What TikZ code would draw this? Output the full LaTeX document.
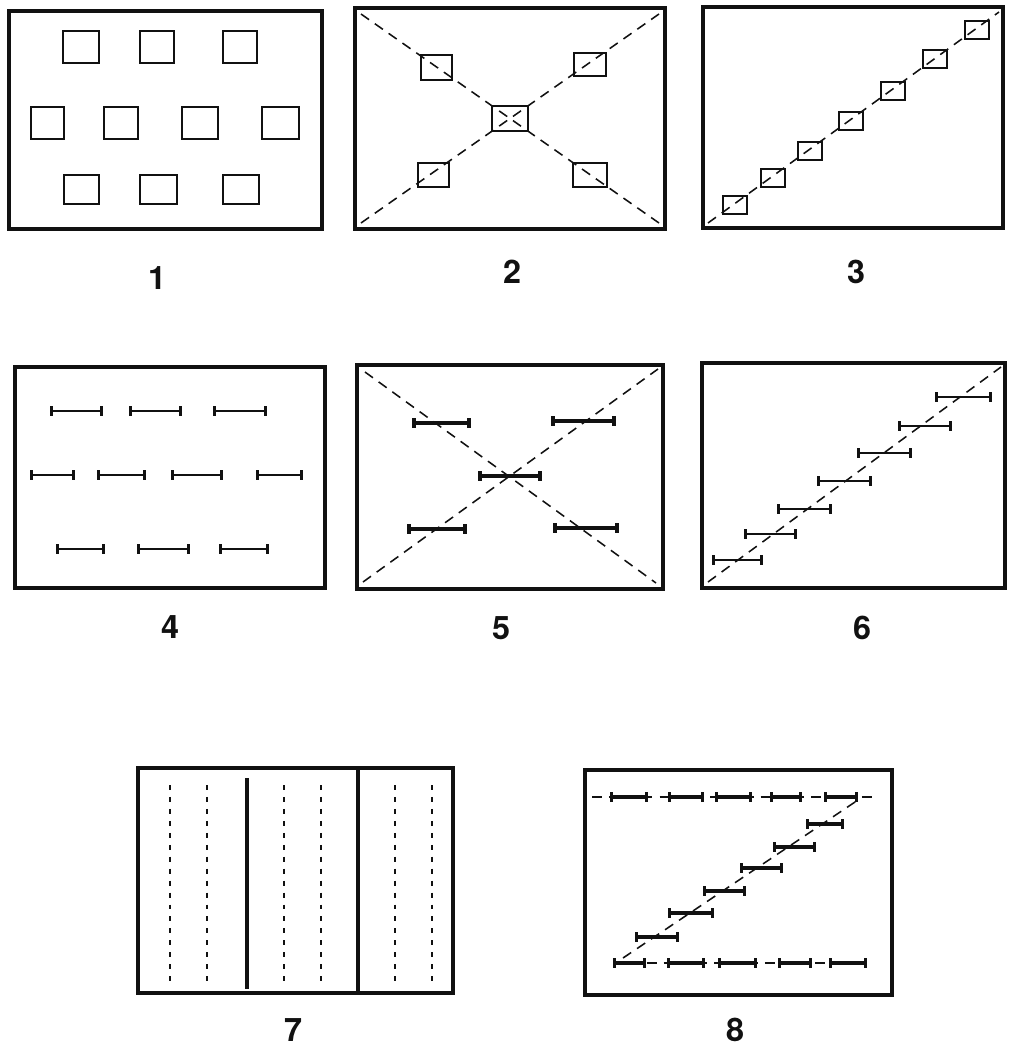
\documentclass[tikz,border=0pt]{standalone}
\usepackage{tikz}
\usepackage{xcolor}
\usepackage{fontspec}
\setmainfont{TeX Gyre Heros}
\usetikzlibrary{arrows.meta}
\definecolor{colorInk}{HTML}{111111}
\def\colorInk{colorInk}

\tikzset{
  cadre/.style={line width=3.4pt, \colorInk},
  pave/.style={line width=1.4pt, \colorInk},
  diagonale/.style={dash pattern=on 7pt off 5pt, line width=1.1pt, \colorInk},
  barre/.style={line width=1.8pt, \colorInk, {Bar[width=7pt]}-{Bar[width=7pt]}},
  grossebarre/.style={barre, line width=2.8pt},
  tirets/.style={dash pattern=on 3.5pt off 5pt, line width=1.4pt, \colorInk},
  numero/.style={font=\fontsize{23pt}{26pt}\selectfont\bfseries, \colorInk, inner sep=0pt}
}

\begin{document}
\begin{tikzpicture}[x=0.025cm, y=-0.025cm]

  \useasboundingbox (0,0) rectangle (1012,1048);

  % Panneau 1 : pavés en quinconce
  \draw[cadre] (9,11) rectangle (322,229);
  \foreach \a/\b in {63/99, 140/174, 223/257}
    \draw[pave] (\a,31) rectangle (\b,63);
  \foreach \a/\b in {31/64, 104/138, 182/218, 262/299}
    \draw[pave] (\a,107) rectangle (\b,139);
  \foreach \a/\b in {64/99, 140/177, 223/259}
    \draw[pave] (\a,175) rectangle (\b,204);
  \node[numero] (num1) at (157,278) {1};

  % Panneau 2 : diagonales croisées
  \draw[cadre] (355,8) rectangle (665,229);
  \draw[diagonale] (361,14) -- (659,223);
  \draw[diagonale] (361,223) -- (659,14);
  \draw[pave] (421,55) rectangle (452,80);
  \draw[pave] (574,53) rectangle (606,76);
  \draw[pave] (492,106) rectangle (528,131);
  \draw[pave] (418,163) rectangle (449,187);
  \draw[pave] (573,163) rectangle (607,187);
  \node[numero] (num2) at (512,272) {2};

  % Panneau 3 : une seule diagonale
  \draw[cadre] (703,7) rectangle (1003,228);
  \draw[diagonale] (708,223) -- (999,12);
  \foreach \x/\y in {735/205, 773/178, 810/151, 851/121, 893/91, 935/59, 977/30}
    \draw[pave] (\x-12,\y-9) rectangle (\x+12,\y+9);
  \node[numero] (num3) at (856,272) {3};

  % Panneau 4 : barres en quinconce
  \draw[cadre] (15,367) rectangle (325,588);
  \foreach \a/\b in {50/103, 129/182, 213/267}
    \draw[barre] (\a,411) -- (\b,411);
  \foreach \a/\b in {30/75, 97/146, 171/223, 256/303}
    \draw[barre] (\a,475) -- (\b,475);
  \foreach \a/\b in {56/105, 137/190, 219/269}
    \draw[barre] (\a,549) -- (\b,549);
  \node[numero] (num4) at (170,627) {4};

  % Panneau 5
  \draw[cadre] (357,365) rectangle (663,589);
  \draw[diagonale] (365,372) -- (656,583);
  \draw[diagonale] (363,582) -- (658,369);
  \draw[grossebarre] (412,423) -- (471,423);
  \draw[grossebarre] (551,421) -- (616,421);
  \draw[grossebarre] (478,476) -- (542,476);
  \draw[grossebarre] (407,529) -- (467,529);
  \draw[grossebarre] (553,528) -- (619,528);
  \node[numero] (num5) at (501,628) {5};

  % Panneau 6 : escalier de barres
  \draw[cadre] (702,363) rectangle (1005,588);
  \draw[diagonale] (708,582) -- (1001,367);
  \foreach \a/\b/\y in {712/763/560, 744/797/534, 777/832/509, 817/872/481,
                        857/912/453, 898/952/426, 935/992/397}
    \draw[barre] (\a,\y) -- (\b,\y);
  \node[numero] (num6) at (862,628) {6};

  % Panneau 7 : lignes verticales
  \draw[cadre] (138,768) rectangle (453,993);
  \foreach \x in {170, 207, 284, 321, 395, 432}
    \draw[tirets] (\x,785) -- (\x,987);
  \draw[line width=2.4pt, \colorInk] (247,778) -- (247,989);
  \draw[line width=2.4pt, \colorInk] (358,768) -- (358,993);
  \node[numero] (num7) at (293,1030) {7};

  % Panneau 8 : deux rangées et escalier
  \draw[cadre] (585,770) rectangle (892,995);
  \draw[diagonale] (592,797) -- (872,797);
  \draw[diagonale] (613,963) -- (867,963);
  \draw[diagonale] (623,958) -- (858,800);
  \foreach \a/\b in {610/648, 668/704, 715/752, 770/802, 824/858}
    \draw[grossebarre, line width=2.4pt] (\a,797) -- (\b,797);
  \foreach \a/\b in {613/646, 667/705, 718/757, 778/812, 829/867}
    \draw[grossebarre, line width=2.4pt] (\a,963) -- (\b,963);
  \foreach \a/\b/\y in {635/679/937, 668/714/913, 703/746/891, 740/783/868,
                        773/816/847, 806/844/824}
    \draw[grossebarre, line width=2.4pt] (\a,\y) -- (\b,\y);
  \node[numero] (num8) at (735,1030) {8};

\end{tikzpicture}
\end{document}
